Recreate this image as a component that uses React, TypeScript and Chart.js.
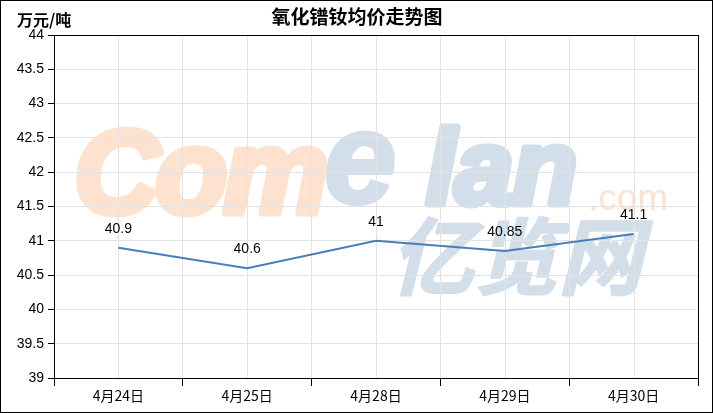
import React, { useEffect, useRef } from 'react';
import { Chart, registerables } from 'chart.js';

Chart.register(...registerables);

const categories = ['4月24日', '4月25日', '4月28日', '4月29日', '4月30日'];
const prices = [40.9, 40.6, 41, 40.85, 41.1];
const yMin = 39;
const yMax = 44;
const yStep = 0.5;
const titleText = '氧化镨钕均价走势图';
const unitText = '万元/吨';

const W = 713;
const H = 413;

export default function App() {
  const ref = useRef<HTMLCanvasElement>(null);

  useEffect(() => {
    const canvas = ref.current!;
    const heavyText = (ctx: any, text: string, x: number, y: number, color: string, font: string, stroke: number) => {
      ctx.font = font;
      ctx.fillStyle = color;
      ctx.strokeStyle = color;
      ctx.lineWidth = stroke;
      ctx.lineJoin = 'round';
      if (stroke > 0) ctx.strokeText(text, x, y);
      ctx.fillText(text, x, y);
    };
    const deco = {
      id: 'deco',
      beforeDraw(chart: any) {
        const ctx = chart.ctx;
        ctx.save();
        ctx.fillStyle = '#ffffff';
        ctx.fillRect(0, 0, chart.width, chart.height);
        // watermark
        ctx.textBaseline = 'alphabetic';
        ctx.textAlign = 'left';
        const orange = '#fde3cf';
        const blue = '#d3deeb';
        (ctx as any).letterSpacing = '-4px';
        heavyText(ctx, 'Com', 74, 213, orange, 'italic bold 118px "Liberation Sans"', 7);
        (ctx as any).letterSpacing = '0px';
        heavyText(ctx, 'e', 324, 203, blue, 'italic bold 130px "Liberation Sans"', 4);
        (ctx as any).letterSpacing = '-1px';
        heavyText(ctx, 'lan', 426, 204, blue, 'italic bold 106px "Liberation Sans"', 7);
        (ctx as any).letterSpacing = '0px';
        heavyText(ctx, '.com', 588, 210, orange, '37px "Liberation Sans"', 0);
        heavyText(ctx, '亿览网', 390, 288, blue, 'italic bold 84px "Noto Sans CJK SC"', 2);
        ctx.restore();
      },
      beforeDatasetsDraw(chart: any) {
        const ctx = chart.ctx;
        const xs = chart.scales.x;
        const a = chart.chartArea;
        ctx.save();
        ctx.strokeStyle = '#e3e3e3';
        ctx.lineWidth = 1;
        for (let i = 0; i < categories.length; i++) {
          const x = Math.round(xs.getPixelForValue(i)) + 0.5;
          ctx.beginPath();
          ctx.moveTo(x, a.top);
          ctx.lineTo(x, a.bottom);
          ctx.stroke();
        }
        ctx.restore();
      },
      afterDraw(chart: any) {
        const ctx = chart.ctx;
        const a = chart.chartArea;
        ctx.save();
        // plot box
        ctx.strokeStyle = '#000';
        ctx.lineWidth = 1;
        ctx.strokeRect(Math.round(a.left) + 0.5, Math.round(a.top) + 0.5, Math.round(a.right - a.left), Math.round(a.bottom - a.top));
        // outer border
        ctx.strokeRect(0.5, 0.5, chart.width - 1, chart.height - 1);
        // data labels
        const meta = chart.getDatasetMeta(0);
        ctx.fillStyle = '#000';
        ctx.font = '14px "Liberation Sans"';
        ctx.textAlign = 'center';
        ctx.textBaseline = 'middle';
        meta.data.forEach((pt: any, i: number) => {
          ctx.fillText(String(prices[i]), pt.x, pt.y - 19);
        });
        // title
        ctx.font = 'bold 19px "Noto Sans CJK SC"';
        ctx.fillText(titleText, 357, 17);
        // unit
        ctx.textAlign = 'left';
        ctx.font = 'bold 16px "Noto Sans CJK SC"';
        ctx.fillText(unitText, 17, 20);
        ctx.restore();
      },
    };

    const chart = new Chart(canvas, {
      type: 'line',
      data: {
        labels: categories,
        datasets: [
          {
            data: prices,
            borderColor: '#4a7ebb',
            borderWidth: 2,
            pointRadius: 0,
            tension: 0,
            fill: false,
          },
        ],
      },
      options: {
        responsive: false,
        animation: false,
        devicePixelRatio: 1,
        layout: { padding: { top: 35, right: 15, bottom: 0, left: 0 } },
        plugins: {
          legend: { display: false },
          tooltip: { enabled: false },
          title: { display: false },
        },
        scales: {
          x: {
            type: 'category',
            offset: true,
            grid: { offset: true, color: '#e3e3e3', tickColor: '#000', tickLength: 8 },
            border: { color: '#000' },
            ticks: { font: { family: '"Noto Sans CJK SC"', size: 14 }, color: '#000', padding: 1, maxRotation: 0 },
            afterFit(s: any) {
              s.height = 35;
            },
          },
          y: {
            min: yMin,
            max: yMax,
            ticks: {
              stepSize: yStep,
              font: { family: '"Liberation Sans"', size: 14 },
              color: '#000',
              padding: 4,
              callback: (v: any) => String(v),
            },
            grid: { color: '#e3e3e3', tickColor: '#000', tickLength: 6 },
            border: { color: '#000' },
            afterFit(s: any) {
              s.width = 54;
            },
          },
        },
      },
      plugins: [deco],
    });
    return () => chart.destroy();
  }, []);

  return (
    <div style={{ position: 'fixed', left: 0, top: 0, width: W, height: H }}>
      <canvas ref={ref} width={W} height={H} style={{ display: 'block', width: W, height: H }} />
    </div>
  );
}
